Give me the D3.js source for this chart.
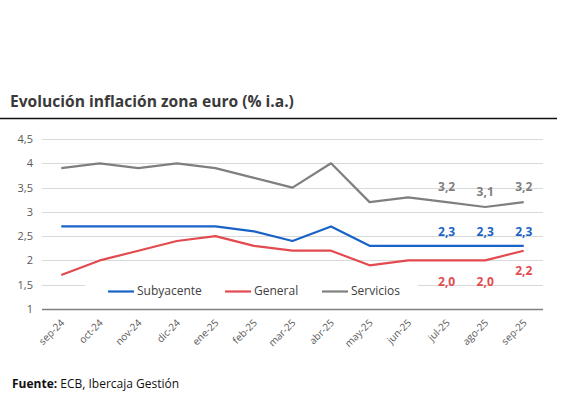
<!DOCTYPE html>
<html><head><meta charset="utf-8">
<script src="https://cdn.jsdelivr.net/npm/d3@7"></script>
<style>body{margin:0;background:#fff}svg{display:block}</style>
</head><body>
<svg id="c" width="569" height="398"></svg>
<script>
const months = ["sep-24","oct-24","nov-24","dic-24","ene-25","feb-25","mar-25","abr-25","may-25","jun-25","jul-25","ago-25","sep-25"];
const subyacente = [2.7,2.7,2.7,2.7,2.7,2.6,2.4,2.7,2.3,2.3,2.3,2.3,2.3];
const general    = [1.7,2.0,2.2,2.4,2.5,2.3,2.2,2.2,1.9,2.0,2.0,2.0,2.2];
const servicios  = [3.9,4.0,3.9,4.0,3.9,3.7,3.5,4.0,3.2,3.3,3.2,3.1,3.2];
const yTicks = [1,1.5,2,2.5,3,3.5,4,4.5];
const labelMonths = ["jul-25","ago-25","sep-25"];

(function(){
const series = [
  {name:"Subyacente", values:subyacente, color:"#1a63c6"},
  {name:"General", values:general, color:"#e34a4f"},
  {name:"Servicios", values:servicios, color:"#7f7f7f"}
];
const fmt = v => d3.format(".1f")(v).replace(".", ",");
const fmtTick = v => String(v).replace(".", ",");

const svg = d3.select("#c");
const L = 42, R = 543, T = 139, B = 309;
const x = d3.scalePoint().domain(months).range([L, R]).padding(0.5);
const y = d3.scaleLinear().domain([1, 4.5]).range([B, T]);

// title
svg.append("text").attr("x", 10).attr("y", 107)
  .attr("font-family", "Open Sans, sans-serif").attr("font-weight", 700)
  .attr("font-size", 15.6).attr("fill", "#3a3a3a")
  .text("Evolución inflación zona euro (% i.a.)");
svg.append("line").attr("x1", 0).attr("x2", 557).attr("y1", 118.5).attr("y2", 118.5)
  .attr("stroke", "#111").attr("stroke-width", 1.5);

// grid
const grid = svg.append("g");
grid.selectAll("line").data(yTicks.filter(d => d > 1)).join("line")
  .attr("x1", L).attr("x2", R)
  .attr("y1", d => Math.round(y(d)) + 0.5).attr("y2", d => Math.round(y(d)) + 0.5)
  .attr("stroke", "#d9d9d9").attr("stroke-width", 1);

// y axis labels
const yAxis = d3.axisLeft(y).tickValues(yTicks).tickFormat(fmtTick).tickSize(0).tickPadding(9);
const gy = svg.append("g").attr("transform", `translate(${L},0)`).call(yAxis);
gy.select(".domain").remove();
gy.selectAll("text").attr("font-family", "Open Sans, sans-serif").attr("font-size", 11).attr("fill", "#595959");

// x axis
const xAxis = d3.axisBottom(x).tickSize(0).tickPadding(6);
const gx = svg.append("g").attr("transform", `translate(0,${B})`).call(xAxis);
gx.select(".domain").attr("d", `M${L},0.5H${R}`).attr("stroke", "#7f7f7f").attr("stroke-width", 1.3);
gx.selectAll("text").attr("font-family", "Open Sans, sans-serif").attr("font-size", 10).attr("fill", "#595959")
  .attr("text-anchor", "end").attr("dy", "0.3em")
  .attr("transform", "translate(-3,8) rotate(-45)");

// legend background
svg.append("rect").attr("x", 85).attr("y", 279).attr("width", 333).attr("height", 24).attr("fill", "#fff");

// lines
const line = d3.line().x((d, i) => x(months[i])).y(d => y(d));
series.forEach(s => {
  svg.append("path").datum(s.values).attr("d", line)
    .attr("fill", "none").attr("stroke", s.color).attr("stroke-width", 2.2)
    .attr("stroke-linejoin", "round");
});

// data labels
const offsets = {Servicios: () => -14, Subyacente: () => -13, General: (v, m) => m === "sep-25" ? 21 : 22};
series.forEach(s => {
  const g = svg.append("g");
  labelMonths.forEach(m => {
    const i = months.indexOf(m);
    const v = s.values[i];
    g.append("text").attr("x", x(m)).attr("y", y(v) + offsets[s.name](v, m))
      .attr("text-anchor", "middle").attr("dominant-baseline", "middle")
      .attr("font-family", "Open Sans, sans-serif").attr("font-weight", 700).attr("font-size", 12)
      .attr("fill", s.color).text(fmt(v));
  });
});

// legend
const legX = [108, 225, 322];
series.forEach((s, i) => {
  svg.append("line").attr("x1", legX[i]).attr("x2", legX[i] + 26).attr("y1", 291.5).attr("y2", 291.5)
    .attr("stroke", s.color).attr("stroke-width", 2.2);
  svg.append("text").attr("x", legX[i] + 29).attr("y", 291.5).attr("dominant-baseline", "middle")
    .attr("font-family", "Open Sans, sans-serif").attr("font-size", 12).attr("fill", "#404040").text(s.name);
});

// footer
const f = svg.append("text").attr("x", 12).attr("y", 388)
  .attr("font-family", "Open Sans, sans-serif").attr("font-size", 12).attr("fill", "#111");
f.append("tspan").attr("font-weight", 700).text("Fuente:");
f.append("tspan").text(" ECB, Ibercaja Gestión");
})();
</script>
</body></html>
